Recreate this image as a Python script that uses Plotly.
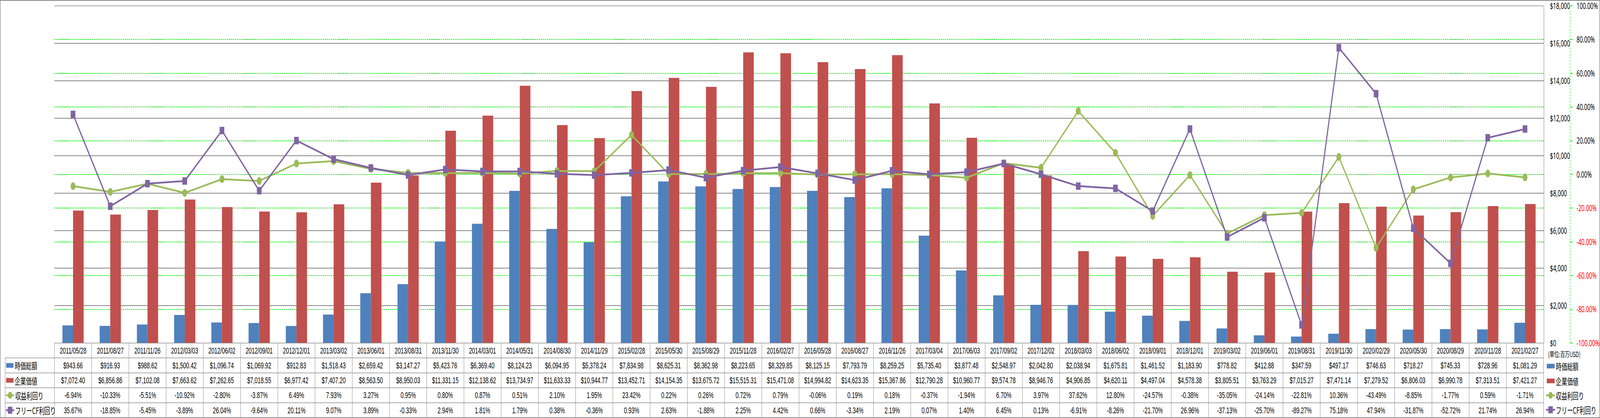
import plotly.graph_objects as go

W, H = 6526, 1071

# ---------------- data ----------------
dates = ["2011/05/28", "2011/08/27", "2011/11/26", "2012/03/03", "2012/06/02", "2012/09/01",
         "2012/12/01", "2013/03/02", "2013/06/01", "2013/08/31", "2013/11/30", "2014/03/01",
         "2014/05/31", "2014/08/30", "2014/11/29", "2015/02/28", "2015/05/30", "2015/08/29",
         "2015/11/28", "2016/02/27", "2016/05/28", "2016/08/27", "2016/11/26", "2017/03/04",
         "2017/06/03", "2017/09/02", "2017/12/02", "2018/03/03", "2018/06/02", "2018/09/01",
         "2018/12/01", "2019/03/02", "2019/06/01", "2019/08/31", "2019/11/30", "2020/02/29",
         "2020/05/30", "2020/08/29", "2020/11/28", "2021/02/27"]

market_cap = [943.66, 916.93, 988.62, 1500.42, 1096.74, 1069.92, 912.83, 1518.43, 2659.42, 3147.27,
              5423.76, 6369.40, 8124.23, 6094.95, 5378.24, 7834.98, 8625.31, 8362.98, 8223.65, 8329.85,
              8125.15, 7793.79, 8259.25, 5735.40, 3877.48, 2548.97, 2042.80, 2038.94, 1675.81, 1461.52,
              1183.90, 778.82, 412.88, 347.59, 497.17, 746.63, 718.27, 745.33, 728.96, 1081.29]

enterprise_value = [7072.40, 6856.86, 7102.08, 7663.62, 7262.65, 7018.55, 6977.42, 7407.20, 8563.50, 8950.03,
                    11331.15, 12138.62, 13734.97, 11633.33, 10944.77, 13452.71, 14154.35, 13675.72, 15515.31, 15471.08,
                    14994.82, 14623.35, 15367.86, 12790.28, 10960.77, 9574.78, 8946.76, 4906.85, 4620.11, 4497.04,
                    4578.38, 3805.51, 3763.29, 7015.27, 7471.14, 7279.52, 6806.03, 6990.78, 7313.51, 7421.27]

earnings_yield = [-6.94, -10.33, -5.51, -10.92, -2.80, -3.87, 6.49, 7.93, 3.27, 0.95,
                  0.80, 0.87, 0.51, 2.10, 1.95, 23.42, 0.22, 0.26, 0.72, 0.79,
                  -0.06, 0.19, 0.18, -0.37, -1.94, 6.70, 3.97, 37.62, 12.80, -24.57,
                  -0.38, -35.05, -24.14, -22.81, 10.36, -43.49, -8.85, -1.77, 0.59, -1.71]

fcf_yield = [35.67, -18.85, -5.45, -3.89, 26.04, -9.64, 20.11, 9.07, 3.89, -0.33,
             2.94, 1.81, 1.79, 0.38, -0.36, 0.93, 2.63, -1.88, 2.25, 4.42,
             0.66, -3.34, 2.19, 0.07, 1.40, 6.45, 0.13, -6.91, -8.26, -21.70,
             26.96, -37.13, -25.70, -89.27, 75.18, 47.94, -31.87, -52.72, 21.74, 26.94]

series_names = ["時価総額", "企業価値", "収益利回り", "フリーCF利回り"]
unit_label = "(単位:百万USD)"
usd_ticks = [0, 2000, 4000, 6000, 8000, 10000, 12000, 14000, 16000, 18000]
pct_ticks = [-100, -80, -60, -40, -20, 0, 20, 40, 60, 80, 100]

# ---------------- style ----------------
BLUE, RED, GREEN, PURPLE = "#4F81BD", "#C0504D", "#9BBB59", "#8064A2"
GRID = "#878787"
LIME = "#16E616"
NUM_FONT = "Liberation Sans, Arial, sans-serif"
AX_FONT = "Noto Sans, Liberation Sans, sans-serif"
CJK_FONT = "Noto Sans CJK JP, Noto Sans CJK SC, sans-serif"

PL, PR, PT, PB = 222, 6296, 15, 879       # plot area (pixels)
AX2 = 6404                                 # secondary axis line x
ROWS = [879, 917, 955.5, 993.5, 1032, 1070]  # table row edges
LBL_L = 21


def px(x):
    return x / W


def py(y):
    return 1 - y / H


fig = go.Figure()
fig.add_trace(go.Bar(x=dates, y=market_cap, name=series_names[0], marker=dict(color=BLUE, line=dict(width=0))))
fig.add_trace(go.Bar(x=dates, y=enterprise_value, name=series_names[1], marker=dict(color=RED, line=dict(width=0))))
fig.add_trace(go.Scatter(x=dates, y=earnings_yield, name=series_names[2], yaxis="y2", mode="lines+markers",
                         line=dict(color=GREEN, width=4.5),
                         marker=dict(symbol="circle", size=20, color=GREEN, line=dict(width=0))))
fig.add_trace(go.Scatter(x=dates, y=fcf_yield, name=series_names[3], yaxis="y2", mode="lines+markers",
                         line=dict(color=PURPLE, width=4.5),
                         marker=dict(symbol="square", size=19, color=PURPLE, line=dict(width=0))))

pct_text = []
for v in pct_ticks:
    t = f"{v:.2f}%"
    pct_text.append(f"<span style='color:#FF0000'>{t}</span>" if v < 0 else t)

shapes = []
annotations = []

# top edge of plot area ($18,000 grid line, which plotly clips at the range end)
shapes.append(dict(type="line", xref="paper", yref="paper", x0=px(PL), x1=px(PR), y0=py(PT), y1=py(PT),
                   line=dict(color=GRID, width=1.5), layer="below"))
# secondary axis dashed line
shapes.append(dict(type="line", xref="paper", yref="paper", x0=px(AX2), x1=px(AX2), y0=py(PB), y1=py(PT),
                   line=dict(color=LIME, width=1.5, dash="5px,3px")))
# chart border
shapes.append(dict(type="rect", xref="paper", yref="paper", x0=px(1), x1=px(W - 1), y0=py(H - 1), y1=py(1),
                   line=dict(color="#868686", width=2)))

# ---------------- table ----------------
n = len(dates)
colw = (PR - PL) / n
TL = dict(color="#8C8C8C", width=1.5)
shapes.append(dict(type="line", xref="paper", yref="paper", x0=px(PL), x1=px(PR), y0=py(ROWS[0]), y1=py(ROWS[0]), line=TL))
for r in ROWS[1:]:
    shapes.append(dict(type="line", xref="paper", yref="paper", x0=px(LBL_L), x1=px(PR), y0=py(r), y1=py(r), line=TL))
shapes.append(dict(type="line", xref="paper", yref="paper", x0=px(LBL_L), x1=px(LBL_L), y0=py(ROWS[1]), y1=py(ROWS[-1]), line=TL))
for k in range(n + 1):
    xx = PL + k * colw
    shapes.append(dict(type="line", xref="paper", yref="paper", x0=px(xx), x1=px(xx), y0=py(ROWS[0]), y1=py(ROWS[-1]), line=TL))


def cell(text, xc, yc, size=22, family=NUM_FONT, xanchor="center"):
    annotations.append(dict(text=text, x=px(xc), y=py(yc), xref="paper", yref="paper", showarrow=False,
                            xanchor=xanchor, yanchor="middle", font=dict(size=size, family=family, color="#000000")))


row_vals = [
    [f"${v:,.2f}" for v in market_cap],
    [f"${v:,.2f}" for v in enterprise_value],
    [f"{v:.2f}%" for v in earnings_yield],
    [f"{v:.2f}%" for v in fcf_yield],
]
for k in range(n):
    xc = PL + (k + 0.5) * colw
    cell(dates[k], xc, (ROWS[0] + ROWS[1]) / 2)
    for r in range(4):
        cell(row_vals[r][k], xc, (ROWS[r + 1] + ROWS[r + 2]) / 2)


def legend_symbol(kind, x0, x1, yc, color):
    if kind == "bar":
        shapes.append(dict(type="rect", xref="paper", yref="paper", x0=px(x0), x1=px(x1), y0=py(yc + 6), y1=py(yc - 6),
                           fillcolor=color, line=dict(width=0)))
    else:
        shapes.append(dict(type="line", xref="paper", yref="paper", x0=px(x0), x1=px(x1), y0=py(yc), y1=py(yc),
                           line=dict(color=color, width=4.5)))
        cxm = (x0 + x1) / 2
        if kind == "circle":
            shapes.append(dict(type="circle", xref="paper", yref="paper", x0=px(cxm - 9), x1=px(cxm + 9),
                               y0=py(yc + 9), y1=py(yc - 9), fillcolor=color, line=dict(width=0)))
        else:
            shapes.append(dict(type="rect", xref="paper", yref="paper", x0=px(cxm - 9), x1=px(cxm + 9),
                               y0=py(yc + 9), y1=py(yc - 9), fillcolor=color, line=dict(width=0)))


kinds = ["bar", "bar", "circle", "square"]
cols = [BLUE, RED, GREEN, PURPLE]
# row labels in table
for r in range(4):
    yc = (ROWS[r + 1] + ROWS[r + 2]) / 2
    if kinds[r] == "bar":
        legend_symbol("bar", 25, 55, yc, cols[r])
        cell(series_names[r], 58, yc, size=23, family=CJK_FONT, xanchor="left")
    else:
        legend_symbol(kinds[r], 24, 58, yc, cols[r])
        cell(series_names[r], 60, yc, size=23, family=CJK_FONT, xanchor="left")

# right-hand legend
cell(unit_label, 6312, 906, size=19, family=CJK_FONT, xanchor="left")
leg_y = [938, 976, 1013, 1050]
for r in range(4):
    if kinds[r] == "bar":
        legend_symbol("bar", 6309, 6341, leg_y[r], cols[r])
    else:
        legend_symbol(kinds[r], 6306, 6343, leg_y[r], cols[r])
    cell(series_names[r], 6344, leg_y[r], size=23, family=CJK_FONT, xanchor="left")

fig.update_layout(
    width=W, height=H, autosize=False,
    margin=dict(l=0, r=0, t=0, b=0, pad=0, autoexpand=False),
    paper_bgcolor="white", plot_bgcolor="white",
    showlegend=False,
    barmode="group", bargap=0.43, bargroupgap=0,
    xaxis=dict(type="category", domain=[px(PL), px(PR)], range=[-0.5, n - 0.5], autorange=False,
               showticklabels=False, showgrid=False, zeroline=False, showline=False, ticks="",
               automargin=False),
    yaxis=dict(domain=[py(PB), py(PT)], range=[0, 18000], autorange=False, side="right", tickvals=usd_ticks,
               ticktext=[f"${v:,}" for v in usd_ticks], showgrid=True, gridcolor=GRID, gridwidth=1.5,
               showline=True, linecolor=GRID, linewidth=1.5, ticks="", ticklabelstandoff=20,
               ticklabeloverflow="allow",
               zeroline=False, automargin=False, tickfont=dict(size=22, family=AX_FONT, color="#000000")),
    yaxis2=dict(overlaying="y", anchor="free", position=px(AX2), side="right", range=[-100, 100],
                autorange=False, tickvals=pct_ticks, ticktext=pct_text, showgrid=True, gridcolor=LIME,
                gridwidth=1.5, griddash="5px,3px", showline=False, zeroline=False, ticks="outside", ticklen=9,
                tickcolor=LIME, tickwidth=1.5, ticklabelstandoff=12, automargin=False,
                ticklabeloverflow="allow",
                tickfont=dict(size=22, family=AX_FONT, color="#000000")),
    shapes=shapes,
    annotations=annotations,
)

# Fit the fixed-size figure into whatever viewport the browser actually has
fit_js = """
document.documentElement.style.margin='0';
document.body.style.margin='0';
document.body.style.overflow='hidden';
var gd = document.getElementById('{plot_id}');
function fitFig(){
  var sx = window.innerWidth / %d, sy = window.innerHeight / %d;
  gd.style.transformOrigin = '0 0';
  gd.style.transform = 'scale(' + sx + ',' + sy + ')';
}
fitFig();
window.addEventListener('resize', fitFig);
""" % (W, H)

fig.write_html("out.html", config={"displayModeBar": False}, post_script=fit_js)
